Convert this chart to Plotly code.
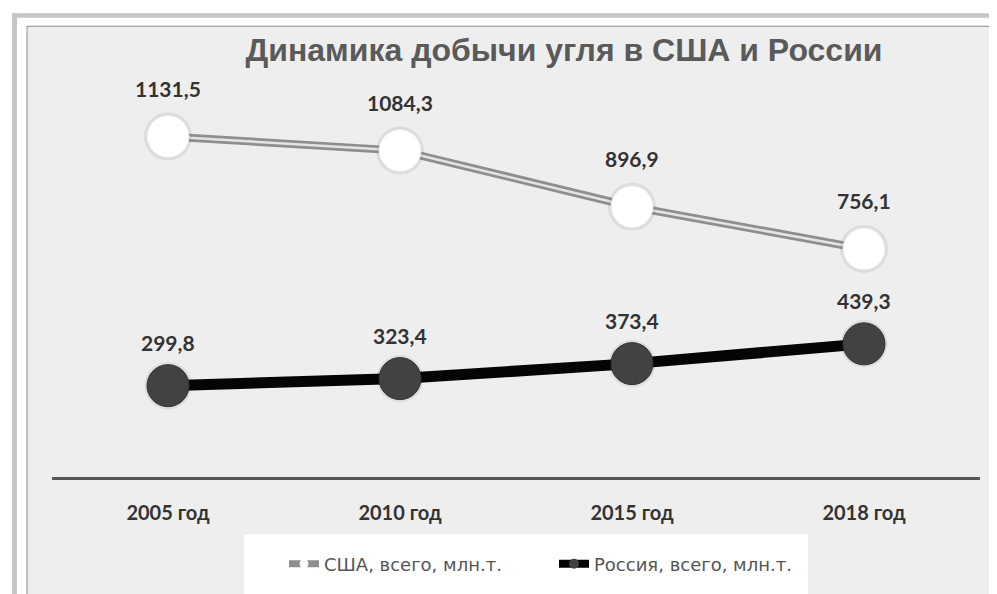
import plotly.graph_objects as go

# ---- data ----
categories = ["2005 год", "2010 год", "2015 год", "2018 год"]
usa_values = [1131.5, 1084.3, 896.9, 756.1]
russia_values = [299.8, 323.4, 373.4, 439.3]
usa_name = "США, всего, млн.т."
russia_name = "Россия, всего, млн.т."
title_text = "Динамика добычи угля в США и России"

# ---- geometry (page pixels; page body has an 8px margin) ----
OFF = 8
W, H = 997 - OFF, 594 - OFF
# plot area on page: x 52..980, y 59..480
L, R, T, B = 52 - OFF, 17, 59 - OFF, 114
PW, PH = W - L - R, H - T - B


def px(x):
    return (x - OFF - L) / PW


def py(y):
    return (H - B - (y - OFF)) / PH


def fmt(v):
    return f"{v:.1f}".replace(".", ",")


fig = go.Figure()

# USA: outer gray line
fig.add_trace(go.Scatter(x=categories, y=usa_values, mode="lines",
                         line=dict(color="#8e8e8e", width=8),
                         showlegend=False, hoverinfo="skip"))
# USA: inner light stripe (double-line look)
fig.add_trace(go.Scatter(x=categories, y=usa_values, mode="lines",
                         line=dict(color="#e4e4e4", width=2.5),
                         showlegend=False, hoverinfo="skip"))
# USA: marker halo (soft shadow)
fig.add_trace(go.Scatter(x=categories, y=usa_values, mode="markers",
                         marker=dict(size=48, color="rgba(110,110,110,0.14)"),
                         showlegend=False, hoverinfo="skip"))
# USA: white markers
fig.add_trace(go.Scatter(x=categories, y=usa_values, mode="markers",
                         marker=dict(size=42, color="#ffffff",
                                     line=dict(color="#e8e8e8", width=1)),
                         showlegend=False, name=usa_name))
# USA legend proxy
fig.add_trace(go.Scatter(x=[None], y=[None], mode="lines+markers", name=usa_name,
                         line=dict(color="#8e8e8e", width=7),
                         marker=dict(size=9, color="#ffffff")))

# Russia
fig.add_trace(go.Scatter(x=categories, y=russia_values, mode="markers",
                         marker=dict(size=47, color="rgba(90,90,90,0.12)"),
                         showlegend=False, hoverinfo="skip"))
fig.add_trace(go.Scatter(x=categories, y=russia_values, mode="lines+markers",
                         name=russia_name, showlegend=False,
                         line=dict(color="#050505", width=11),
                         marker=dict(size=42, color="#424242",
                                     line=dict(color="#333333", width=1))))
# Russia legend proxy
fig.add_trace(go.Scatter(x=[None], y=[None], mode="lines+markers", name=russia_name,
                         line=dict(color="#050505", width=8),
                         marker=dict(size=10, color="#424242")))

annotations = []
for c, v in zip(categories, usa_values):
    annotations.append(dict(x=c, y=v, text=fmt(v), showarrow=False, yshift=48,
                            font=dict(family="Lato", size=21, color="#333333", weight="bold")))
for c, v in zip(categories, russia_values):
    annotations.append(dict(x=c, y=v, text=fmt(v), showarrow=False, yshift=43,
                            font=dict(family="Lato", size=21, color="#333333", weight="bold")))

shapes = [
    # outer light-gray frame bands
    dict(type="rect", xref="paper", yref="paper", x0=px(12), x1=px(1005), y0=py(13), y1=py(17.5),
         fillcolor="#c6c6c6", line=dict(width=0), layer="below"),
    dict(type="rect", xref="paper", yref="paper", x0=px(12), x1=px(17), y0=py(13), y1=py(605),
         fillcolor="#c6c6c6", line=dict(width=0), layer="below"),
    # chart area
    dict(type="rect", xref="paper", yref="paper", x0=px(27), x1=px(1010), y0=py(26), y1=py(610),
         fillcolor="#eeeeee", line=dict(color="#8a8a8a", width=1), layer="below"),
    # legend white box
    dict(type="rect", xref="paper", yref="paper", x0=px(244), x1=px(808), y0=py(538), y1=py(610),
         fillcolor="#ffffff", line=dict(width=0), layer="below"),
]

fig.update_layout(
    width=W, height=H,
    margin=dict(l=L, r=R, t=T, b=B),
    paper_bgcolor="#ffffff",
    plot_bgcolor="rgba(0,0,0,0)",
    title=dict(text=title_text, x=(564 - OFF) / W, xanchor="center",
               y=1 - (50 - OFF) / H, yanchor="middle",
               font=dict(family="Liberation Sans", size=32, color="#5a5a5a", weight="bold")),
    xaxis=dict(type="category", range=[-0.5, 3.5], showgrid=False, zeroline=False,
               showline=True, linecolor="#555555", linewidth=3, ticks="",
               ticklabelstandoff=16,
               tickfont=dict(family="Lato", size=20, color="#333333", weight="bold")),
    yaxis=dict(range=[-5, 1390], visible=False, showgrid=False, zeroline=False),
    showlegend=True,
    legend=dict(orientation="h", x=px(284), xanchor="left", y=py(549), yanchor="top",
                bgcolor="rgba(0,0,0,0)", entrywidth=225,
                font=dict(family="DejaVu Sans", size=18, color="#555555")),
    annotations=annotations,
    shapes=shapes,
)

fig.write_html("out.html")
